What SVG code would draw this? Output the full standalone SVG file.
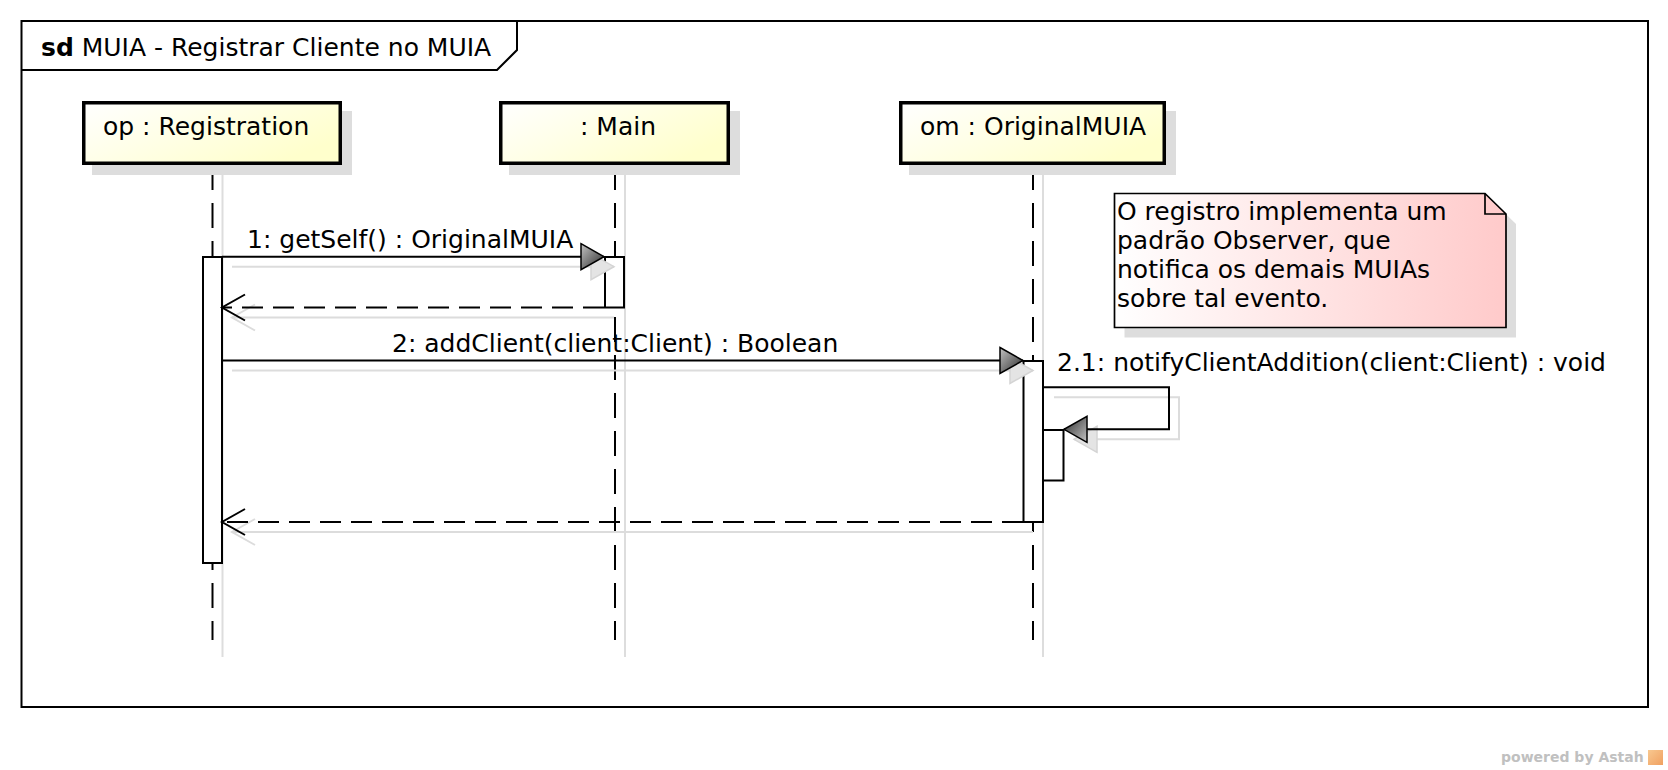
<svg xmlns="http://www.w3.org/2000/svg" width="1668" height="770" viewBox="0 0 1668 770">
<style>
text{font-family:"DejaVu Sans","Liberation Sans",sans-serif;font-size:25px;fill:#000}
.head{fill:url(#yg);stroke:#000;stroke-width:3.5}
.shadow{fill:#dddddd;stroke:none}
.life{stroke:#000;stroke-width:2;stroke-dasharray:25 13;fill:none}
.lifesh{stroke:#dddddd;stroke-width:2;fill:none}
.bar{fill:#fff;stroke:#000;stroke-width:2}
.msg{stroke:#000;stroke-width:2;fill:none}
.ret{stroke:#000;stroke-width:2;fill:none;stroke-dasharray:21 10}
.msgsh{stroke:#dcdcdc;stroke-width:2;fill:none}
</style>
<defs>
<linearGradient id="yg" x1="0" y1="0" x2="1" y2="0.6"><stop offset="0" stop-color="#ffffff"/><stop offset="1" stop-color="#ffffcc"/></linearGradient>
<linearGradient id="pg" x1="0" y1="0" x2="1" y2="0"><stop offset="0" stop-color="#ffffff"/><stop offset="1" stop-color="#ffcaca"/></linearGradient>
<linearGradient id="ag" x1="0" y1="0" x2="1" y2="1"><stop offset="0" stop-color="#c4c4c4"/><stop offset="1" stop-color="#2a2a2a"/></linearGradient>
<linearGradient id="og" x1="0" y1="0" x2="1" y2="1"><stop offset="0" stop-color="#f8c890"/><stop offset="1" stop-color="#f0a060"/></linearGradient>
<marker id="fh" markerUnits="userSpaceOnUse" markerWidth="26" markerHeight="28" refX="23" refY="13" orient="auto" overflow="visible"><path d="M0,0 L23,13 L0,26 Z" fill="url(#ag)" stroke="#000" stroke-width="1.5"/></marker>
<marker id="oh" markerUnits="userSpaceOnUse" markerWidth="26" markerHeight="28" refX="23" refY="13" orient="auto" overflow="visible"><path d="M0,0 L23,13 L0,26" fill="none" stroke="#000" stroke-width="2"/></marker>
<marker id="fhs" markerUnits="userSpaceOnUse" markerWidth="26" markerHeight="28" refX="23" refY="13" orient="auto" overflow="visible"><path d="M0,0 L23,13 L0,26 Z" fill="#e4e4e4" stroke="#d4d4d4" stroke-width="1.5"/></marker>
<marker id="ohs" markerUnits="userSpaceOnUse" markerWidth="26" markerHeight="28" refX="23" refY="13" orient="auto" overflow="visible"><path d="M0,0 L23,13 L0,26" fill="none" stroke="#dcdcdc" stroke-width="2"/></marker>
</defs>
<rect width="1668" height="770" fill="#fff"/>
<g id="frame">
<rect x="21.5" y="21" width="1626.5" height="686" fill="none" stroke="#000" stroke-width="2"/>
<path d="M21.5,70 H497 L517,50 V21" fill="none" stroke="#000" stroke-width="2"/>
<text x="41" y="56"><tspan font-weight="bold">sd</tspan> MUIA - Registrar Cliente no MUIA</text>
</g>
<g id="lifeline-registration">
<line class="lifesh" x1="222.5" y1="175" x2="222.5" y2="657"/>
<line class="life" x1="212.5" y1="165" x2="212.5" y2="640"/>
<rect class="shadow" x="92" y="111" width="260" height="64"/>
<rect class="head" x="83.75" y="102.75" width="256.5" height="60.5"/>
<text x="103" y="135">op : Registration</text>
</g>
<g id="lifeline-main">
<line class="lifesh" x1="625" y1="175" x2="625" y2="657"/>
<line class="life" x1="615" y1="165" x2="615" y2="640"/>
<rect class="shadow" x="509" y="111" width="231" height="64"/>
<rect class="head" x="500.75" y="102.75" width="227.5" height="60.5"/>
<text x="580" y="135">: Main</text>
</g>
<g id="lifeline-originalmuia">
<line class="lifesh" x1="1043" y1="175" x2="1043" y2="657"/>
<line class="life" x1="1033" y1="165" x2="1033" y2="640"/>
<rect class="shadow" x="909" y="111" width="267" height="64"/>
<rect class="head" x="900.75" y="102.75" width="263.5" height="60.5"/>
<text x="920" y="135">om : OriginalMUIA</text>
</g>
<g id="activations">
<rect class="bar" x="203" y="257" width="19" height="306"/>
<rect class="bar" x="605" y="257" width="19" height="50.5"/>
<rect class="bar" x="1023.5" y="361" width="19.5" height="161"/>
<rect class="bar" x="1043" y="430" width="20.5" height="50.5"/>
</g>
<g id="note">
<path class="shadow" d="M1124.5,203.5 H1495 L1516,224 V337.5 H1124.5 Z"/>
<path d="M1114.5,193.5 H1485 L1506,214 V327.5 H1114.5 Z" fill="url(#pg)" stroke="#000" stroke-width="1.7"/>
<path d="M1485,193.5 V214 H1506" fill="none" stroke="#000" stroke-width="1.7"/>
<text x="1117" y="220">O registro implementa um</text>
<text x="1117" y="249">padrão Observer, que</text>
<text x="1117" y="278">notifica os demais MUIAs</text>
<text x="1117" y="307">sobre tal evento.</text>
</g>
<g id="connectors">
<g id="connector-shadows" transform="translate(10,10)">
<path class="msgsh" d="M222,256.7 H604" marker-end="url(#fhs)"/>
<path class="msgsh" d="M604,307.5 H222" marker-end="url(#ohs)"/>
<path class="msgsh" d="M222,360.5 H1023" marker-end="url(#fhs)"/>
<path class="msgsh" d="M1044,387.3 H1169 V429.3 H1064" marker-end="url(#fhs)"/>
<path class="msgsh" d="M1023,522 H222" marker-end="url(#ohs)"/>
</g>
<path class="msg" d="M222,256.7 H604" marker-end="url(#fh)"/>
<text x="247" y="248">1: getSelf() : OriginalMUIA</text>
<path class="ret" d="M604,307.5 H222" marker-end="url(#oh)"/>
<path class="msg" d="M222,360.5 H1023" marker-end="url(#fh)"/>
<text x="392" y="352">2: addClient(client:Client) : Boolean</text>
<path class="msg" d="M1044,387.3 H1169 V429.3 H1064" marker-end="url(#fh)"/>
<text x="1057" y="371">2.1: notifyClientAddition(client:Client) : void</text>
<path class="ret" d="M1023,522 H222" marker-end="url(#oh)"/>
</g>
<g id="watermark">
<text x="1501" y="762" style="font-size:14px;font-weight:bold;fill:#c0c0c0">powered by Astah</text>
<rect x="1648" y="750" width="15" height="15" fill="url(#og)"/>
</g>
</svg>
